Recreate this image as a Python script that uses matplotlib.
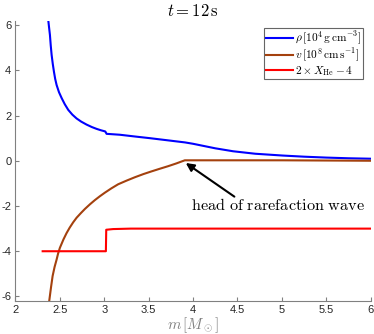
import numpy as np
import matplotlib
matplotlib.use('Agg')
import matplotlib.pyplot as plt

plt.rcParams['mathtext.fontset'] = 'cm'
plt.rcParams['font.family'] = ['Liberation Sans', 'DejaVu Sans']

# density rho [1e4 g/cm^3]
m_rho = [2.369, 2.378, 2.388, 2.397, 2.407, 2.42, 2.433, 2.447, 2.463, 2.49, 2.52, 2.555, 2.594,
         2.64, 2.688, 2.74, 2.80, 2.86, 2.913, 2.96, 3.007, 3.012, 3.026, 3.175, 3.35, 3.51,
         3.70, 3.91, 4.00, 4.10, 4.25, 4.45, 4.70, 5.01, 5.25, 5.50, 5.75, 6.0]
rho = [6.22, 5.90, 5.56, 5.10, 4.68, 4.28, 3.94, 3.62, 3.35, 3.03, 2.77, 2.50, 2.25,
       2.04, 1.87, 1.73, 1.60, 1.49, 1.41, 1.35, 1.30, 1.29, 1.19, 1.15, 1.07, 1.00,
       0.91, 0.81, 0.75, 0.67, 0.55, 0.42, 0.31, 0.23, 0.18, 0.14, 0.11, 0.09]

# velocity v [1e8 cm/s]
m_v = [2.38, 2.40, 2.418, 2.44, 2.463, 2.48, 2.50, 2.54, 2.575, 2.61, 2.65, 2.688, 2.735, 2.782,
       2.84, 2.894, 2.95, 3.007, 3.08, 3.156, 3.25, 3.344, 3.44, 3.532, 3.62, 3.719, 3.81,
       3.907, 4.5, 5.0, 5.5, 6.0]
v = [-6.2, -5.6, -5.10, -4.70, -4.37, -4.10, -3.85, -3.48, -3.20, -2.96, -2.72, -2.52, -2.32, -2.13,
     -1.92, -1.74, -1.57, -1.41, -1.22, -1.04, -0.88, -0.73, -0.59, -0.47, -0.36, -0.24, -0.12,
     0.02, 0.02, 0.02, 0.01, 0.0]

# 2*X_He - 4
m_he = [2.306, 3.018, 3.022, 3.10, 3.30, 6.0]
he = [-4.0, -4.0, -3.05, -3.02, -3.0, -3.0]

fig = plt.figure(figsize=(3.74, 3.34), dpi=100)
ax = fig.add_axes([0.0414, 0.0988, 0.9497, 0.8398])

ax.plot(m_rho, rho, color='#0000ff', lw=1.5, label=r'$\rho\,[10^4\,\mathrm{g\,cm^{-3}}]$')
ax.plot(m_v, v, color='#a4410e', lw=1.5, label=r'$v\,[10^8\,\mathrm{cm\,s^{-1}}]$')
ax.plot(m_he, he, color='#ff0000', lw=1.5, label=r'$2\times X_{\mathrm{He}}-4$')

ax.set_xlim(2, 6)
ax.set_ylim(-6.2, 6.2)
ax.set_xticks([2, 2.5, 3, 3.5, 4, 4.5, 5, 5.5, 6])
ax.set_xticklabels(['2', '2.5', '3', '3.5', '4', '4.5', '5', '5.5', '6'])
ax.set_yticks([-6, -4, -2, 0, 2, 4, 6])
ax.set_yticklabels(['-6', '-4', '-2', '0', '2', '4', '6'])

for s in ['top', 'right']:
    ax.spines[s].set_visible(False)
for s in ['left', 'bottom']:
    ax.spines[s].set_color('#808080')
ax.tick_params(direction='in', length=3, color='#808080', labelcolor='#262626', labelsize=8, pad=3)

ax.set_title(r'$t = 12\,\mathrm{s}$', fontsize=12, pad=3)
ax.set_xlabel(r'$m\,[M_\odot]$', fontsize=11, color='#808080', labelpad=0)

ax.annotate(r'$\mathrm{head\ of\ rarefaction\ wave}$', xy=(3.918, -0.10), xytext=(4.955, -1.94),
            ha='center', va='center', fontsize=11.7,
            arrowprops=dict(arrowstyle='-|>', color='black', lw=1.5, mutation_scale=12,
                            shrinkA=0, shrinkB=0, patchA=None,
                            relpos=(0.25, 1.0)))

leg = ax.legend(loc='upper right', bbox_to_anchor=(0.978, 0.973), fontsize=8.2,
                frameon=True, fancybox=False, handlelength=2.4, handletextpad=0.2,
                borderpad=0.12, labelspacing=0.0, borderaxespad=0)
leg.get_frame().set_edgecolor('#404040')
leg.get_frame().set_linewidth(0.8)

fig.savefig('out.png', dpi=100)
